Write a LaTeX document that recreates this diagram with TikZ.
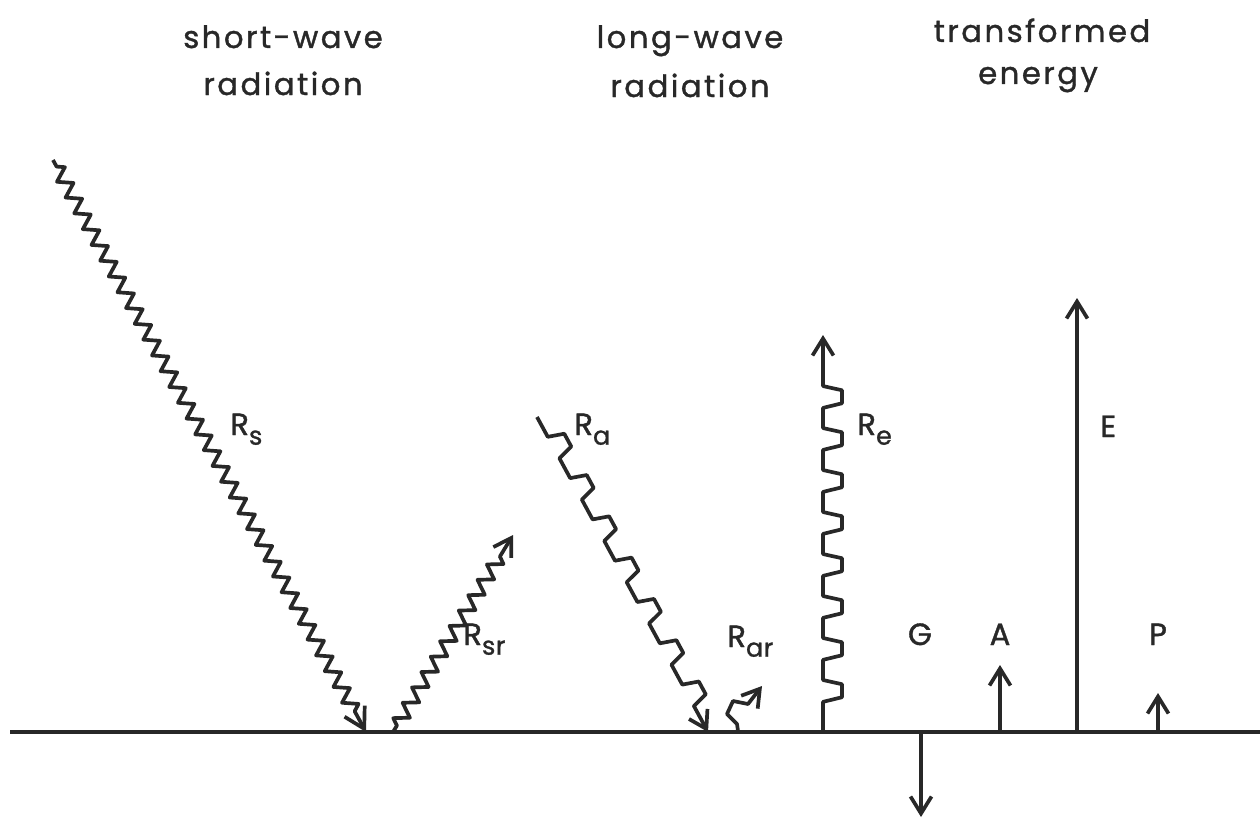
\documentclass[tikz,border=0pt]{standalone}
\usepackage{fontspec}
\setmainfont{Poppins}
\newfontfamily\ttlfont{Poppins}[LetterSpace=8,FakeBold=1.2]
\newfontfamily\labfont{Poppins}[LetterSpace=2,FakeBold=1.2]
\usetikzlibrary{decorations.pathmorphing,arrows.meta}
\definecolor{ink}{RGB}{40,40,40}

\pgfdeclaredecoration{lwave}{initial}{
  \state{initial}[width=\pgfdecorationsegmentlength]{
    \pgfpathlineto{\pgfqpoint{0.48\pgfdecorationsegmentlength}{0pt}}
    \pgfpathlineto{\pgfqpoint{0.59\pgfdecorationsegmentlength}{\pgfdecorationsegmentamplitude}}
    \pgfpathlineto{\pgfqpoint{0.90\pgfdecorationsegmentlength}{\pgfdecorationsegmentamplitude}}
    \pgfpathlineto{\pgfqpoint{\pgfdecorationsegmentlength}{0pt}}
  }
  \state{final}{\pgfpathlineto{\pgfpointdecoratedpathlast}}
}

\newcommand\subtx[1]{\raisebox{-5.5pt}{\fontsize{14.5}{14.5}\selectfont #1}}

\tikzset{
  wire/.style={draw=ink, line width=2.1pt, line join=round},
  barb/.style={-{Straight Barb[length=0.34cm,width=0.42cm]}},
  bigbarb/.style={-{Straight Barb[length=0.40cm,width=0.46cm]}},
  swave/.style={decorate, decoration={zigzag, segment length=0.36cm, amplitude=0.14cm, pre length=0.15cm, post length=0.45cm}},
  rawave/.style={decorate, decoration={lwave, segment length=0.94cm, amplitude=0.32cm, pre length=0cm, post length=0.5cm}},
  rewave/.style={decorate, decoration={lwave, segment length=0.84cm, amplitude=-0.38cm, pre length=0.2cm, post length=0.2cm}},
  title/.style={anchor=base, inner sep=0pt, text=ink, font=\ttlfont\fontsize{17.5}{20}\selectfont},
  lab/.style={anchor=base west, inner sep=0pt, text=ink, font=\labfont\fontsize{17.5}{20}\selectfont},
  clab/.style={anchor=base, inner sep=0pt, text=ink, font=\labfont\fontsize{17.5}{20}\selectfont}
}

\begin{document}
\begin{tikzpicture}[x=0.02cm, y=-0.02cm]
\fill[white] (0,0) rectangle (1260,821);
\useasboundingbox (0,0) rectangle (1260,821);

% titles
\node[title] (t1a) at (283,48) {short-wave};
\node[title] (t1b) at (283,95) {radiation};
\node[title] (t2a) at (690,48) {long-wave};
\node[title] (t2b) at (690,97) {radiation};
\node[title] (t3a) at (1042,42) {transformed};
\node[title] (t3b) at (1038,84) {energy};

% ground
\coordinate (gL) at (10,732);
\coordinate (gR) at (1260,732);
\draw[wire] (gL) -- (gR);

% short-wave incoming
\coordinate (rsA) at (53,160);
\coordinate (rsB) at (366,732);
\draw[wire, bigbarb, swave] (rsA) -- (rsB);
\node[lab] (lrs) at (230,435) {R\subtx{s}};

% short-wave reflected
\coordinate (rsrA) at (393,732);
\coordinate (rsrB) at (513,535);
\draw[wire, barb, swave] (rsrA) -- (rsrB);
\node[lab] (lrsr) at (463,645) {R\subtx{sr}};

% long-wave incoming
\coordinate (raA) at (537,417);
\coordinate (raB) at (708,732);
\draw[wire, barb, rawave] (raA) -- (raB);
\node[lab] (lra) at (574,435) {R\subtx{a}};

% long-wave reflected
\coordinate (rarA) at (738,731);
\coordinate (rarB) at (762,686);
\draw[wire, barb] (rarA) -- ++(-1,-7) -- ++(-10,-10) -- ++(6,-13) -- ++(15,3) -- (rarB);
\node[lab] (lrar) at (727,647) {R\subtx{ar}};

% long-wave emitted
\coordinate (reA) at (823,732);
\coordinate (reB) at (823,335);
\draw[wire, barb, rewave] (reA) -- (reB);
\node[lab] (lre) at (857,435) {R\subtx{e}};

% transformed energy
\coordinate (gA) at (921,732);
\coordinate (gB) at (921,817);
\draw[wire, barb] (gA) -- (gB);
\node[clab] (lg) at (920,645) {G};

\coordinate (aA) at (1000,732);
\coordinate (aB) at (1000,665);
\draw[wire, barb] (aA) -- (aB);
\node[clab] (la) at (1000,645) {A};

\coordinate (eA) at (1077,732);
\coordinate (eB) at (1077,298);
\draw[wire, barb] (eA) -- (eB);
\node[lab] (le) at (1100,437) {E};

\coordinate (pA) at (1158,732);
\coordinate (pB) at (1158,693);
\draw[wire, barb] (pA) -- (pB);
\node[clab] (lp) at (1158,645) {P};
\end{tikzpicture}
\end{document}
